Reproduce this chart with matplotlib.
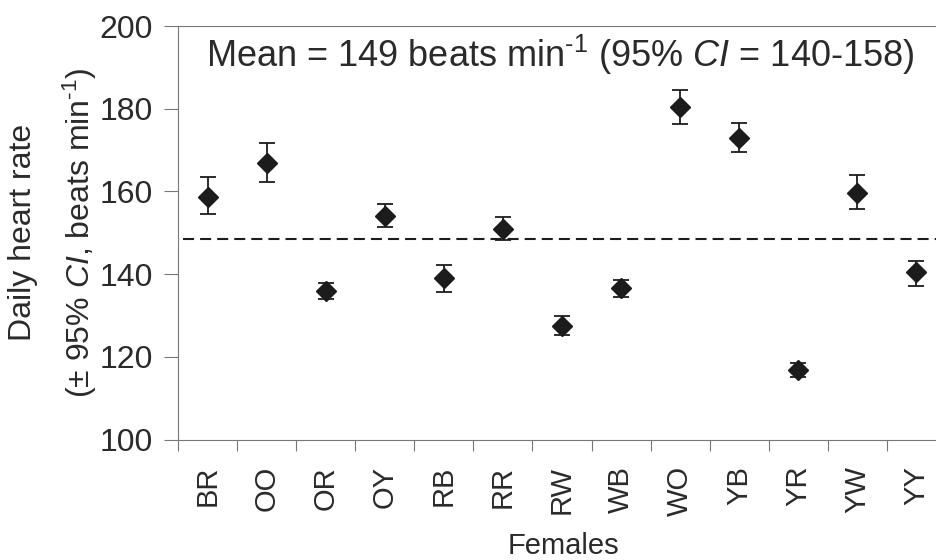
import matplotlib
matplotlib.use("Agg")
import matplotlib.pyplot as plt
import numpy as np

plt.rcParams['font.family'] = ['Liberation Sans', 'DejaVu Sans']
plt.rcParams['mathtext.fontset'] = 'custom'
plt.rcParams['mathtext.rm'] = 'Liberation Sans'
plt.rcParams['mathtext.it'] = 'Liberation Sans:italic'
plt.rcParams['mathtext.default'] = 'regular'

# ---- data ----
females = ["BR", "OO", "OR", "OY", "RB", "RR", "RW", "WB", "WO", "YB", "YR", "YW", "YY"]
heart_rate = [158.7, 166.9, 135.9, 154.0, 139.0, 151.0, 127.4, 136.6, 180.5, 172.8, 116.8, 159.7, 140.6]
ci_low = [154.5, 162.2, 133.9, 151.4, 135.6, 148.2, 125.3, 134.5, 176.2, 169.5, 115.2, 155.7, 137.2]
ci_high = [163.6, 171.6, 137.8, 156.9, 142.2, 153.8, 129.9, 138.6, 184.5, 176.6, 118.5, 164.0, 143.2]
mean_line = 148.4
y_ticks = [100, 120, 140, 160, 180, 200]

W, H = 937, 560
fig = plt.figure(figsize=(W / 100, H / 100), dpi=100)
left, right = 178 / W, 946 / W
bottom, top = 1 - 439.5 / H, 1 - 26 / H
ax = fig.add_axes([left, bottom, right - left, top - bottom])

x = np.arange(len(females))
hr = np.array(heart_rate)
yerr = np.vstack([hr - np.array(ci_low), np.array(ci_high) - hr])

ax.errorbar(x, hr, yerr=yerr, fmt='D', color='#1c1c1c', ms=10.2, mec='#1c1c1c',
            elinewidth=1.3, capsize=5.8, capthick=1.3, zorder=3)

ax.axhline(mean_line, xmin=0.006, color='#1c1c1c', lw=1.5, ls=(0, (5.3, 2.9)), zorder=2)

ax.set_xlim(-0.5, len(females) - 0.5)
ax.set_ylim(100, 200)
ax.set_yticks(y_ticks)
ax.set_yticklabels([str(v) for v in y_ticks], fontsize=23, color='#2a2a2a')
ax.set_xticks(x)
ax.set_xticklabels(females, rotation=90, fontsize=21, color='#2a2a2a', va='top')
ax.set_xticks(np.arange(len(females) + 1) - 0.5, minor=True)
ax.tick_params(axis='x', which='major', length=0, pad=19)
ax.tick_params(axis='x', which='minor', length=8, width=0.8, color='#777777', direction='out')
ax.tick_params(axis='y', which='major', length=10, width=0.8, color='#777777', direction='out', pad=8)

for side in ['left', 'bottom', 'top']:
    ax.spines[side].set_color('#777777')
    ax.spines[side].set_linewidth(0.8)
ax.spines['right'].set_visible(False)

ax.text(-0.02, 190.2, r"Mean = 149 beats min$^{\text{-1}}$ (95% $\mathit{CI}$ = 140-158)",
        fontsize=26, color='#2a2a2a', ha='left', va='baseline')

ymid = (bottom + top) / 2
fig.text(23 / W, ymid, "Daily heart rate", rotation=90, ha='center', va='center',
         fontsize=23, color='#2a2a2a')
fig.text(80 / W, ymid, r"($\pm$ 95% $\mathit{CI}$, beats min$^{\text{-1}}$)", rotation=90,
         ha='center', va='center', fontsize=23, color='#2a2a2a')
fig.text(563 / W, 1 - 554 / H, "Females", ha='center', va='baseline', fontsize=21,
         color='#2a2a2a')

fig.savefig("out.png", dpi=100)
